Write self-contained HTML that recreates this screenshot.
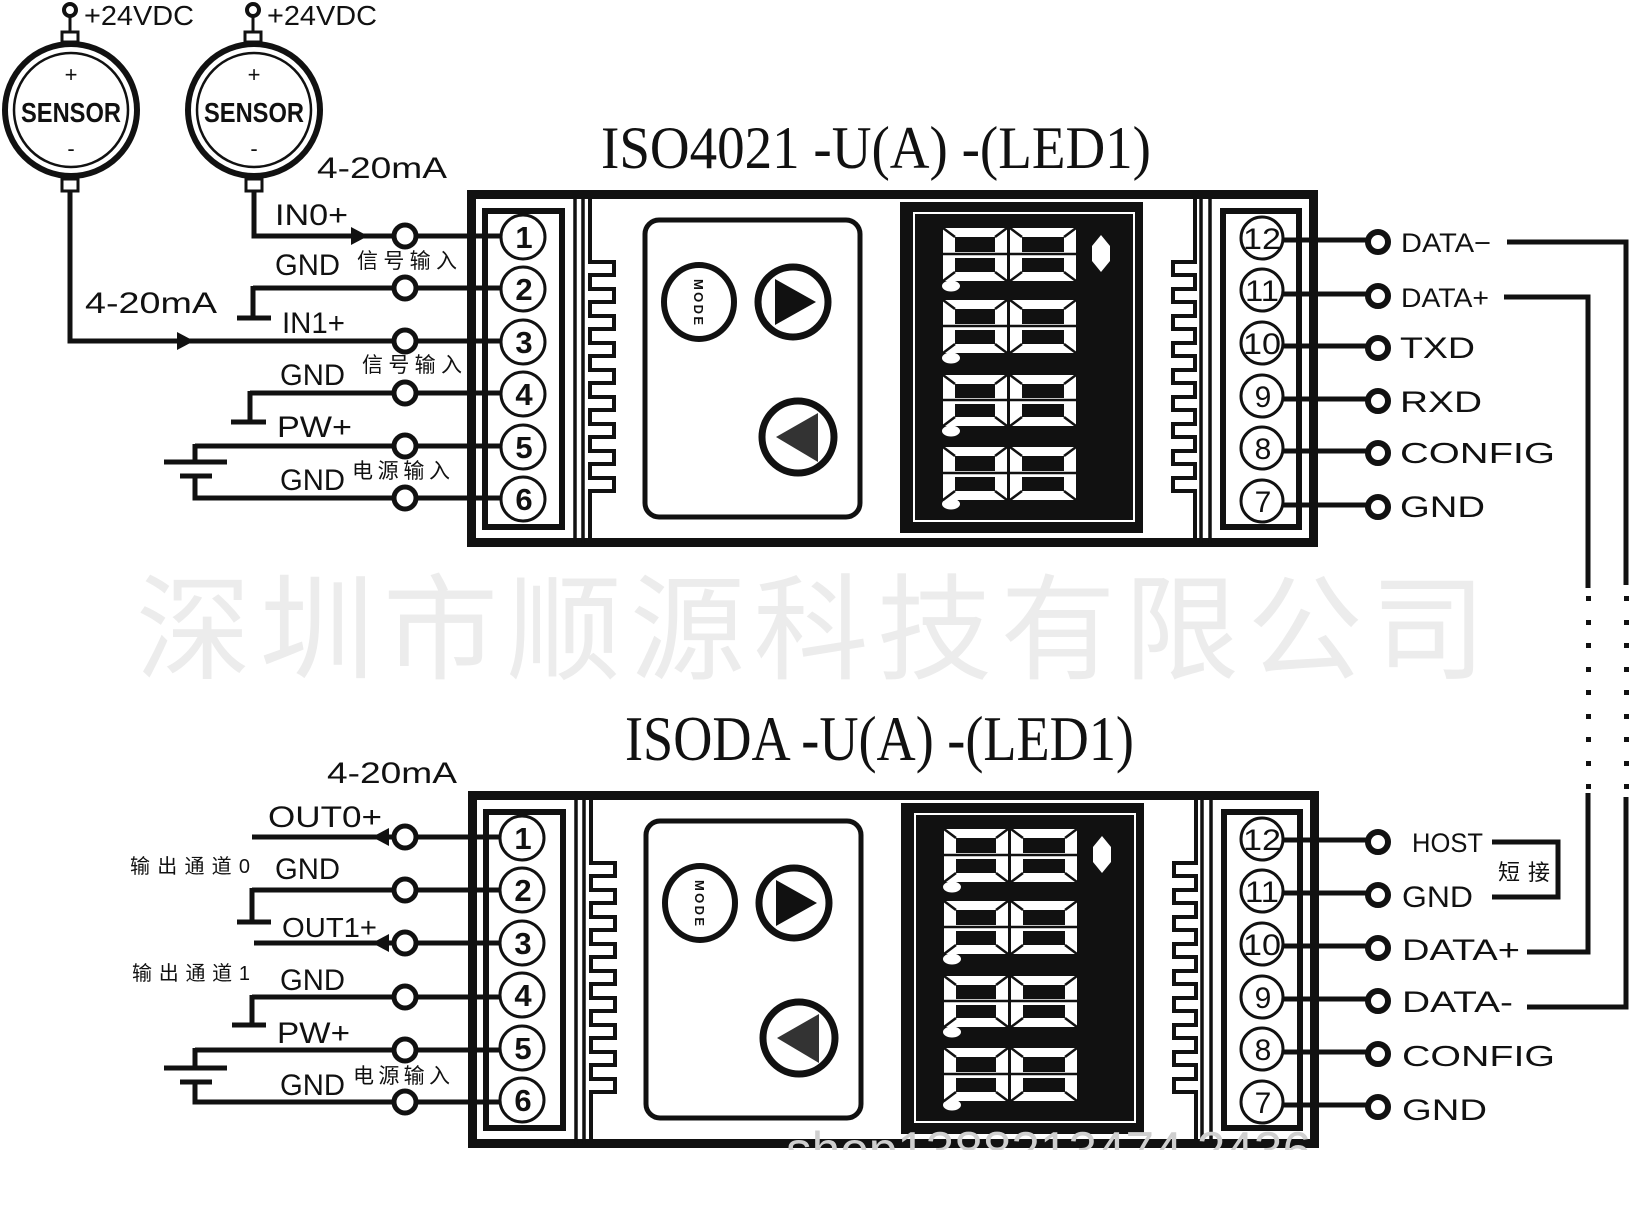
<!DOCTYPE html>
<html><head><meta charset="utf-8"><style>
html,body{margin:0;padding:0;background:#fff;}
svg{display:block;}
text{font-family:"Liberation Sans","Noto Sans CJK SC",sans-serif;}
.serif{font-family:"Liberation Serif","Noto Serif CJK SC",serif;}
</style></head><body>
<svg width="1630" height="1217" viewBox="0 0 1630 1217" xmlns="http://www.w3.org/2000/svg">
<defs>
<clipPath id="wm2"><rect x="760" y="1128" width="560" height="22"/></clipPath>
</defs>
<rect width="1630" height="1217" fill="#fff"/>

<text x="136" y="670" font-size="115" fill="#ececec" textLength="1350" lengthAdjust="spacing" font-family="Liberation Sans, Noto Sans CJK SC, sans-serif">深圳市顺源科技有限公司</text>

<text class="serif" x="601" y="168" font-size="60" textLength="550" lengthAdjust="spacingAndGlyphs" fill="#111">ISO4021  -U(A) -(LED1)</text>
<text class="serif" x="625" y="760" font-size="63" textLength="509" lengthAdjust="spacingAndGlyphs" fill="#111">ISODA  -U(A) -(LED1)</text>

<g stroke="#111" fill="none">
  <circle cx="70" cy="10" r="6" stroke-width="4"/>
  <line x1="70" y1="16" x2="70" y2="32" stroke-width="3"/>
  <rect x="62" y="32" width="16" height="10" stroke-width="3"/>
  <circle cx="71" cy="110" r="66" stroke-width="6"/>
  <circle cx="71" cy="110" r="57" stroke-width="2.5"/>
  <rect x="62" y="179" width="16" height="12" stroke-width="3"/>
  <circle cx="253" cy="10" r="6" stroke-width="4"/>
  <line x1="253" y1="16" x2="253" y2="32" stroke-width="3"/>
  <rect x="245" y="32" width="16" height="10" stroke-width="3"/>
  <circle cx="254" cy="110" r="66" stroke-width="6"/>
  <circle cx="254" cy="110" r="57" stroke-width="2.5"/>
  <rect x="246" y="179" width="16" height="12" stroke-width="3"/>
</g>
<g fill="#111">
  <text x="84" y="25" font-size="28" textLength="110" lengthAdjust="spacingAndGlyphs">+24VDC</text>
  <text x="267" y="25" font-size="28" textLength="110" lengthAdjust="spacingAndGlyphs">+24VDC</text>
  <text x="71" y="82" font-size="22" text-anchor="middle">+</text>
  <text x="254" y="82" font-size="22" text-anchor="middle">+</text>
  <text x="21" y="122" font-size="28" font-weight="bold" textLength="100" lengthAdjust="spacingAndGlyphs">SENSOR</text>
  <text x="204" y="122" font-size="28" font-weight="bold" textLength="100" lengthAdjust="spacingAndGlyphs">SENSOR</text>
  <text x="71" y="156" font-size="22" text-anchor="middle">-</text>
  <text x="254" y="156" font-size="22" text-anchor="middle">-</text>
</g>

<g stroke="#111" stroke-width="5" fill="none">
  <path d="M254,191 V236 H400"/>
  <path d="M70,191 V341 H400"/>
  <path d="M253,288 H400 M253,286 V318 M237,318 H271"/>
  <path d="M250,393 H400 M250,391 V422 M231,422 H266"/>
  <path d="M195,446 H400 M195,444 V462 M164,462 H227 M180,476 H212 M195,476 V498 H400"/>
  <path d="M416,236 H505 M416,288 H505 M416,341 H505 M416,393 H505 M416,446 H505 M416,498 H505"/>
</g>
<g fill="#111">
  <polygon points="351,227 368,236 351,245"/>
  <polygon points="177,332 194,341 177,350"/>
</g>
<g stroke="#111" stroke-width="5" fill="#fff">
  <circle cx="405" cy="236" r="11"/><circle cx="405" cy="288" r="11"/><circle cx="405" cy="341" r="11"/>
  <circle cx="405" cy="393" r="11"/><circle cx="405" cy="446" r="11"/><circle cx="405" cy="498" r="11"/>
</g>
<g fill="#111">
  <text x="317" y="178" font-size="30" textLength="130" lengthAdjust="spacingAndGlyphs">4-20mA</text>
  <text x="275" y="225" font-size="30" textLength="73" lengthAdjust="spacingAndGlyphs">IN0+</text>
  <text x="275" y="275" font-size="30" textLength="65" lengthAdjust="spacingAndGlyphs">GND</text>
  <text x="357" y="268" font-size="21" textLength="100" lengthAdjust="spacing">信号输入</text>
  <text x="85" y="313" font-size="30" textLength="132" lengthAdjust="spacingAndGlyphs">4-20mA</text>
  <text x="282" y="333" font-size="30" textLength="63" lengthAdjust="spacingAndGlyphs">IN1+</text>
  <text x="362" y="372" font-size="21" textLength="100" lengthAdjust="spacing">信号输入</text>
  <text x="280" y="385" font-size="30" textLength="65" lengthAdjust="spacingAndGlyphs">GND</text>
  <text x="277" y="437" font-size="30" textLength="75" lengthAdjust="spacingAndGlyphs">PW+</text>
  <text x="280" y="490" font-size="30" textLength="65" lengthAdjust="spacingAndGlyphs">GND</text>
  <text x="352" y="478" font-size="21" textLength="98" lengthAdjust="spacing">电源输入</text>
</g>

<g stroke="#111" stroke-width="5" fill="none">
  <path d="M252,837 H400"/>
  <path d="M252,890 H400 M252,888 V922 M237,922 H271"/>
  <path d="M254,943 H400"/>
  <path d="M252,997 H400 M252,995 V1025 M232,1025 H266"/>
  <path d="M195,1050 H400 M195,1048 V1068 M164,1068 H227 M180,1082 H212 M195,1082 V1102 H400"/>
  <path d="M416,837 H505 M416,890 H505 M416,943 H505 M416,997 H505 M416,1050 H505 M416,1102 H505"/>
</g>
<g fill="#111">
  <polygon points="389,828 372,837 389,846"/>
  <polygon points="389,934 372,943 389,952"/>
</g>
<g stroke="#111" stroke-width="5" fill="#fff">
  <circle cx="405" cy="837" r="11"/><circle cx="405" cy="890" r="11"/><circle cx="405" cy="943" r="11"/>
  <circle cx="405" cy="997" r="11"/><circle cx="405" cy="1050" r="11"/><circle cx="405" cy="1102" r="11"/>
</g>
<g fill="#111">
  <text x="327" y="783" font-size="30" textLength="130" lengthAdjust="spacingAndGlyphs">4-20mA</text>
  <text x="268" y="827" font-size="30" textLength="114" lengthAdjust="spacingAndGlyphs">OUT0+</text>
  <text x="130" y="873" font-size="20" textLength="120" lengthAdjust="spacing">输出通道0</text>
  <text x="275" y="879" font-size="30" textLength="65" lengthAdjust="spacingAndGlyphs">GND</text>
  <text x="282" y="937" font-size="28" textLength="95" lengthAdjust="spacingAndGlyphs">OUT1+</text>
  <text x="132" y="980" font-size="20" textLength="118" lengthAdjust="spacing">输出通道1</text>
  <text x="280" y="990" font-size="30" textLength="65" lengthAdjust="spacingAndGlyphs">GND</text>
  <text x="277" y="1043" font-size="30" textLength="73" lengthAdjust="spacingAndGlyphs">PW+</text>
  <text x="280" y="1095" font-size="30" textLength="65" lengthAdjust="spacingAndGlyphs">GND</text>
  <text x="353" y="1083" font-size="21" textLength="97" lengthAdjust="spacing">电源输入</text>
</g>

<g stroke="#111" stroke-width="5" fill="none">
  <path d="M1280,240 H1370 M1280,294 H1370 M1280,346 H1370 M1280,399 H1370 M1280,451 H1370 M1280,505 H1370"/>
  <path d="M1507,242 H1626 V585"/>
  <path d="M1504,297 H1588 V588"/>
  <path d="M1588,793 V952 H1527"/>
  <path d="M1626,797 V1007 H1527"/>
  <path d="M1492,842 H1558 V897 H1492"/>
  <path d="M1280,840 H1370 M1280,893 H1370 M1280,946 H1370 M1280,999 H1370 M1280,1052 H1370 M1280,1105 H1370"/>
</g>
<g fill="#111">
  <rect x="1586" y="596" width="5" height="5"/><rect x="1586" y="620" width="5" height="5"/><rect x="1586" y="643" width="5" height="5"/>
  <rect x="1586" y="667" width="5" height="5"/><rect x="1586" y="690" width="5" height="5"/><rect x="1586" y="714" width="5" height="5"/>
  <rect x="1586" y="737" width="5" height="5"/><rect x="1586" y="761" width="5" height="5"/><rect x="1586" y="784" width="5" height="5"/>
  <rect x="1624" y="596" width="5" height="5"/><rect x="1624" y="620" width="5" height="5"/><rect x="1624" y="643" width="5" height="5"/>
  <rect x="1624" y="667" width="5" height="5"/><rect x="1624" y="690" width="5" height="5"/><rect x="1624" y="714" width="5" height="5"/>
  <rect x="1624" y="737" width="5" height="5"/><rect x="1624" y="761" width="5" height="5"/><rect x="1624" y="784" width="5" height="5"/>
</g>
<g stroke="#111" stroke-width="6" fill="#fff">
  <circle cx="1378" cy="242" r="10"/><circle cx="1378" cy="296" r="10"/><circle cx="1378" cy="348" r="10"/>
  <circle cx="1378" cy="401" r="10"/><circle cx="1378" cy="453" r="10"/><circle cx="1378" cy="507" r="10"/>
  <circle cx="1378" cy="842" r="10"/><circle cx="1378" cy="895" r="10"/><circle cx="1378" cy="948" r="10"/>
  <circle cx="1378" cy="1001" r="10"/><circle cx="1378" cy="1054" r="10"/><circle cx="1378" cy="1107" r="10"/>
</g>
<g fill="#111">
  <text x="1401" y="252" font-size="27" textLength="90" lengthAdjust="spacingAndGlyphs">DATA−</text>
  <text x="1401" y="307" font-size="27" textLength="88" lengthAdjust="spacingAndGlyphs">DATA+</text>
  <text x="1400" y="358" font-size="30" textLength="75" lengthAdjust="spacingAndGlyphs">TXD</text>
  <text x="1400" y="412" font-size="30" textLength="82" lengthAdjust="spacingAndGlyphs">RXD</text>
  <text x="1400" y="463" font-size="29" textLength="155" lengthAdjust="spacingAndGlyphs">CONFIG</text>
  <text x="1400" y="517" font-size="30" textLength="85" lengthAdjust="spacingAndGlyphs">GND</text>
  <text x="1412" y="852" font-size="27" textLength="71" lengthAdjust="spacingAndGlyphs">HOST</text>
  <text x="1498" y="880" font-size="22" textLength="52" lengthAdjust="spacing">短接</text>
  <text x="1402" y="907" font-size="30" textLength="71" lengthAdjust="spacingAndGlyphs">GND</text>
  <text x="1402" y="960" font-size="30" textLength="118" lengthAdjust="spacingAndGlyphs">DATA+</text>
  <text x="1402" y="1012" font-size="30" textLength="111" lengthAdjust="spacingAndGlyphs">DATA-</text>
  <text x="1402" y="1066" font-size="29" textLength="153" lengthAdjust="spacingAndGlyphs">CONFIG</text>
  <text x="1402" y="1120" font-size="30" textLength="85" lengthAdjust="spacingAndGlyphs">GND</text>
</g>

<g id="modtop">
  <rect x="471.5" y="194.5" width="842" height="348" fill="none" stroke="#111" stroke-width="9"/>
  <line x1="575" y1="199" x2="575" y2="543" stroke="#111" stroke-width="3.5"/>
  <line x1="583" y1="199" x2="583" y2="543" stroke="#111" stroke-width="3.5"/>
  <line x1="1201" y1="199" x2="1201" y2="543" stroke="#111" stroke-width="3.5"/>
  <line x1="1210" y1="199" x2="1210" y2="543" stroke="#111" stroke-width="3.5"/>
  <rect x="485" y="211" width="77" height="316" fill="none" stroke="#111" stroke-width="6"/>
  <rect x="1223" y="211" width="76" height="316" fill="none" stroke="#111" stroke-width="6"/>
  <path d="M590,199 V262 H614 V275 H590 V289 H614 V302 H590 V316 H614 V329 H590 V343 H614 V356 H590 V370 H614 V383 H590 V397 H614 V410 H590 V424 H614 V437 H590 V451 H614 V464 H590 V478 H614 V491 H590 V543" fill="none" stroke="#111" stroke-width="4"/>
  <path d="M1195,199 V262 H1173 V275 H1195 V289 H1173 V302 H1195 V316 H1173 V329 H1195 V343 H1173 V356 H1195 V370 H1173 V383 H1195 V397 H1173 V410 H1195 V424 H1173 V437 H1195 V451 H1173 V464 H1195 V478 H1173 V491 H1195 V543" fill="none" stroke="#111" stroke-width="4"/>
  <rect x="645" y="220" width="215" height="297" rx="14" fill="none" stroke="#111" stroke-width="5"/>
  <ellipse cx="699" cy="302" rx="35" ry="37" fill="#fff" stroke="#111" stroke-width="6"/>
  <text x="0" y="0" font-size="13" font-weight="bold" fill="#111" text-anchor="middle" transform="translate(694,302) rotate(90)" textLength="46" lengthAdjust="spacing">MODE</text>
  <circle cx="793" cy="302" r="35" fill="#fff" stroke="#111" stroke-width="7"/>
  <polygon points="775,279 775,325 816,302" fill="#111"/>
  <circle cx="798" cy="437" r="36" fill="#fff" stroke="#111" stroke-width="7"/>
  <polygon points="818,413 818,462 776,437" fill="#333"/>
  <rect x="900" y="202" width="243" height="331" fill="#111"/>
  <rect x="914" y="213" width="220" height="308" fill="none" stroke="#fff" stroke-width="2"/>
  <g fill="#fff">
    <rect x="943" y="228" width="64" height="53"/><rect x="1010" y="228" width="66" height="53"/>
    <rect x="943" y="300" width="64" height="53"/><rect x="1010" y="300" width="66" height="53"/>
    <rect x="943" y="375" width="64" height="51"/><rect x="1010" y="375" width="66" height="51"/>
    <rect x="943" y="447" width="64" height="53"/><rect x="1010" y="447" width="66" height="53"/>
    <ellipse cx="951" cy="286" rx="9" ry="5.5"/><ellipse cx="951" cy="358" rx="9" ry="5.5"/>
    <ellipse cx="951" cy="431" rx="9" ry="5.5"/><ellipse cx="951" cy="504" rx="9" ry="5.5"/>
    <polygon points="1101,235 1110,246 1110,261 1101,272 1092,261 1092,246"/>
  </g>
  <g fill="#111">
    <rect x="955" y="237" width="40" height="15"/><rect x="955" y="258" width="40" height="14"/>
    <rect x="1022" y="237" width="42" height="15"/><rect x="1022" y="258" width="42" height="14"/>
    <rect x="955" y="309" width="40" height="15"/><rect x="955" y="330" width="40" height="14"/>
    <rect x="1022" y="309" width="42" height="15"/><rect x="1022" y="330" width="42" height="14"/>
    <rect x="955" y="384" width="40" height="14"/><rect x="955" y="404" width="40" height="13"/>
    <rect x="1022" y="384" width="42" height="14"/><rect x="1022" y="404" width="42" height="13"/>
    <rect x="955" y="456" width="40" height="15"/><rect x="955" y="477" width="40" height="14"/>
    <rect x="1022" y="456" width="42" height="15"/><rect x="1022" y="477" width="42" height="14"/>
  </g>
  <g stroke="#111" stroke-width="2.5">
    <path d="M943,228 L955,237 M1007,228 L995,237 M943,281 L955,272 M1007,281 L995,272 M943,254 H1007 M1010,228 L1022,237 M1076,228 L1064,237 M1010,281 L1022,272 M1076,281 L1064,272 M1010,254 H1076"/>
    <path d="M943,300 L955,309 M1007,300 L995,309 M943,353 L955,344 M1007,353 L995,344 M943,326 H1007 M1010,300 L1022,309 M1076,300 L1064,309 M1010,353 L1022,344 M1076,353 L1064,344 M1010,326 H1076"/>
    <path d="M943,375 L955,384 M1007,375 L995,384 M943,426 L955,417 M1007,426 L995,417 M943,400 H1007 M1010,375 L1022,384 M1076,375 L1064,384 M1010,426 L1022,417 M1076,426 L1064,417 M1010,400 H1076"/>
    <path d="M943,447 L955,456 M1007,447 L995,456 M943,500 L955,491 M1007,500 L995,491 M943,473 H1007 M1010,447 L1022,456 M1076,447 L1064,456 M1010,500 L1022,491 M1076,500 L1064,491 M1010,473 H1076"/>
  </g>
  <g stroke="#111" stroke-width="3" fill="#fff">
    <circle cx="523" cy="237" r="22"/><circle cx="523" cy="289" r="22"/><circle cx="523" cy="342" r="22"/>
    <circle cx="523" cy="394" r="22"/><circle cx="523" cy="447" r="22"/><circle cx="523" cy="499" r="22"/>
    <circle cx="1262" cy="238" r="21"/><circle cx="1262" cy="290" r="21"/><circle cx="1262" cy="343" r="21"/>
    <circle cx="1262" cy="396" r="21"/><circle cx="1262" cy="448" r="21"/><circle cx="1262" cy="501" r="21"/>
  </g>
  <g fill="#111" font-weight="bold" font-size="31" text-anchor="middle">
    <text x="524" y="248">1</text><text x="524" y="300">2</text><text x="524" y="353">3</text>
    <text x="524" y="405">4</text><text x="524" y="458">5</text><text x="524" y="510">6</text>
  </g>
  <g fill="#111" font-size="30" text-anchor="middle">
    <text x="1262" y="249" textLength="38" lengthAdjust="spacingAndGlyphs">12</text>
    <text x="1262" y="301" textLength="34" lengthAdjust="spacingAndGlyphs">11</text>
    <text x="1262" y="354" textLength="38" lengthAdjust="spacingAndGlyphs">10</text>
    <text x="1263" y="407">9</text><text x="1263" y="459">8</text><text x="1263" y="512">7</text>
  </g>
</g>

<g transform="translate(1,601)">
  <rect x="471.5" y="194.5" width="842" height="348" fill="none" stroke="#111" stroke-width="9"/>
  <line x1="575" y1="199" x2="575" y2="543" stroke="#111" stroke-width="3.5"/>
  <line x1="583" y1="199" x2="583" y2="543" stroke="#111" stroke-width="3.5"/>
  <line x1="1201" y1="199" x2="1201" y2="543" stroke="#111" stroke-width="3.5"/>
  <line x1="1210" y1="199" x2="1210" y2="543" stroke="#111" stroke-width="3.5"/>
  <rect x="485" y="211" width="77" height="316" fill="none" stroke="#111" stroke-width="6"/>
  <rect x="1223" y="211" width="76" height="316" fill="none" stroke="#111" stroke-width="6"/>
  <path d="M590,199 V262 H614 V275 H590 V289 H614 V302 H590 V316 H614 V329 H590 V343 H614 V356 H590 V370 H614 V383 H590 V397 H614 V410 H590 V424 H614 V437 H590 V451 H614 V464 H590 V478 H614 V491 H590 V543" fill="none" stroke="#111" stroke-width="4"/>
  <path d="M1195,199 V262 H1173 V275 H1195 V289 H1173 V302 H1195 V316 H1173 V329 H1195 V343 H1173 V356 H1195 V370 H1173 V383 H1195 V397 H1173 V410 H1195 V424 H1173 V437 H1195 V451 H1173 V464 H1195 V478 H1173 V491 H1195 V543" fill="none" stroke="#111" stroke-width="4"/>
  <rect x="645" y="220" width="215" height="297" rx="14" fill="none" stroke="#111" stroke-width="5"/>
  <ellipse cx="699" cy="302" rx="35" ry="37" fill="#fff" stroke="#111" stroke-width="6"/>
  <text x="0" y="0" font-size="13" font-weight="bold" fill="#111" text-anchor="middle" transform="translate(694,302) rotate(90)" textLength="46" lengthAdjust="spacing">MODE</text>
  <circle cx="793" cy="302" r="35" fill="#fff" stroke="#111" stroke-width="7"/>
  <polygon points="775,279 775,325 816,302" fill="#111"/>
  <circle cx="798" cy="437" r="36" fill="#fff" stroke="#111" stroke-width="7"/>
  <polygon points="818,413 818,462 776,437" fill="#333"/>
  <rect x="900" y="202" width="243" height="331" fill="#111"/>
  <rect x="914" y="213" width="220" height="308" fill="none" stroke="#fff" stroke-width="2"/>
  <g fill="#fff">
    <rect x="943" y="228" width="64" height="53"/><rect x="1010" y="228" width="66" height="53"/>
    <rect x="943" y="300" width="64" height="53"/><rect x="1010" y="300" width="66" height="53"/>
    <rect x="943" y="375" width="64" height="51"/><rect x="1010" y="375" width="66" height="51"/>
    <rect x="943" y="447" width="64" height="53"/><rect x="1010" y="447" width="66" height="53"/>
    <ellipse cx="951" cy="286" rx="9" ry="5.5"/><ellipse cx="951" cy="358" rx="9" ry="5.5"/>
    <ellipse cx="951" cy="431" rx="9" ry="5.5"/><ellipse cx="951" cy="504" rx="9" ry="5.5"/>
    <polygon points="1101,235 1110,246 1110,261 1101,272 1092,261 1092,246"/>
  </g>
  <g fill="#111">
    <rect x="955" y="237" width="40" height="15"/><rect x="955" y="258" width="40" height="14"/>
    <rect x="1022" y="237" width="42" height="15"/><rect x="1022" y="258" width="42" height="14"/>
    <rect x="955" y="309" width="40" height="15"/><rect x="955" y="330" width="40" height="14"/>
    <rect x="1022" y="309" width="42" height="15"/><rect x="1022" y="330" width="42" height="14"/>
    <rect x="955" y="384" width="40" height="14"/><rect x="955" y="404" width="40" height="13"/>
    <rect x="1022" y="384" width="42" height="14"/><rect x="1022" y="404" width="42" height="13"/>
    <rect x="955" y="456" width="40" height="15"/><rect x="955" y="477" width="40" height="14"/>
    <rect x="1022" y="456" width="42" height="15"/><rect x="1022" y="477" width="42" height="14"/>
  </g>
  <g stroke="#111" stroke-width="2.5">
    <path d="M943,228 L955,237 M1007,228 L995,237 M943,281 L955,272 M1007,281 L995,272 M943,254 H1007 M1010,228 L1022,237 M1076,228 L1064,237 M1010,281 L1022,272 M1076,281 L1064,272 M1010,254 H1076"/>
    <path d="M943,300 L955,309 M1007,300 L995,309 M943,353 L955,344 M1007,353 L995,344 M943,326 H1007 M1010,300 L1022,309 M1076,300 L1064,309 M1010,353 L1022,344 M1076,353 L1064,344 M1010,326 H1076"/>
    <path d="M943,375 L955,384 M1007,375 L995,384 M943,426 L955,417 M1007,426 L995,417 M943,400 H1007 M1010,375 L1022,384 M1076,375 L1064,384 M1010,426 L1022,417 M1076,426 L1064,417 M1010,400 H1076"/>
    <path d="M943,447 L955,456 M1007,447 L995,456 M943,500 L955,491 M1007,500 L995,491 M943,473 H1007 M1010,447 L1022,456 M1076,447 L1064,456 M1010,500 L1022,491 M1076,500 L1064,491 M1010,473 H1076"/>
  </g>
  <g stroke="#111" stroke-width="3" fill="#fff">
    <circle cx="521" cy="237" r="22"/><circle cx="521" cy="289" r="22"/><circle cx="521" cy="342" r="22"/>
    <circle cx="521" cy="394" r="22"/><circle cx="521" cy="447" r="22"/><circle cx="521" cy="499" r="22"/>
    <circle cx="1261" cy="238" r="21"/><circle cx="1261" cy="290" r="21"/><circle cx="1261" cy="343" r="21"/>
    <circle cx="1261" cy="396" r="21"/><circle cx="1261" cy="448" r="21"/><circle cx="1261" cy="501" r="21"/>
  </g>
  <g fill="#111" font-weight="bold" font-size="31" text-anchor="middle">
    <text x="522" y="248">1</text><text x="522" y="300">2</text><text x="522" y="353">3</text>
    <text x="522" y="405">4</text><text x="522" y="458">5</text><text x="522" y="510">6</text>
  </g>
  <g fill="#111" font-size="30" text-anchor="middle">
    <text x="1261" y="249" textLength="38" lengthAdjust="spacingAndGlyphs">12</text>
    <text x="1261" y="301" textLength="34" lengthAdjust="spacingAndGlyphs">11</text>
    <text x="1261" y="354" textLength="38" lengthAdjust="spacingAndGlyphs">10</text>
    <text x="1262" y="407">9</text><text x="1262" y="459">8</text><text x="1262" y="512">7</text>
  </g>
</g>

<g clip-path="url(#wm2)">
  <text x="786" y="1168" font-size="52" fill="#cfcfcf" textLength="525" lengthAdjust="spacingAndGlyphs">shop1388213474 2436</text>
</g>
</svg>
</body></html>
